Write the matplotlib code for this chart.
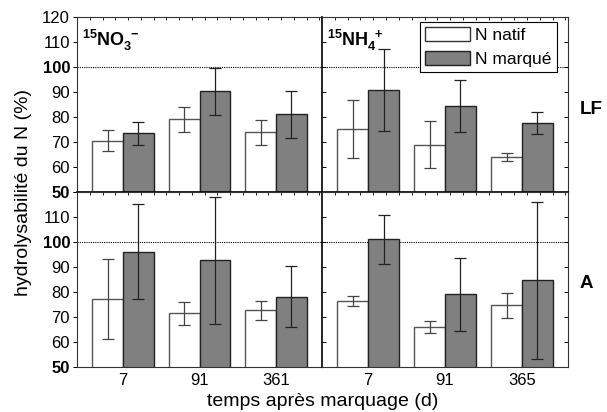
import numpy as np
import matplotlib
matplotlib.use("Agg")
from matplotlib import pyplot as plt
from matplotlib.patches import Patch

plt.rcParams['font.family'] = ['Liberation Sans', 'DejaVu Sans']
plt.rcParams['mathtext.fontset'] = 'custom'
plt.rcParams['mathtext.rm'] = 'Liberation Sans'
plt.rcParams['mathtext.bf'] = 'Liberation Sans:bold'

# days after labelling, per column
days_no3 = ['7', '91', '361']
days_nh4 = ['7', '91', '365']

# LF fraction (top row)
lf_no3_natif = [70.6, 79.1, 74.0]
lf_no3_natif_err = [4.2, 5.0, 5.0]
lf_no3_marque = [73.5, 90.3, 81.1]
lf_no3_marque_err = [4.5, 9.5, 9.3]
lf_nh4_natif = [75.2, 68.9, 64.0]
lf_nh4_natif_err = [11.5, 9.4, 1.7]
lf_nh4_marque = [90.9, 84.5, 77.6]
lf_nh4_marque_err = [16.5, 10.4, 4.3]

# A fraction (bottom row)
a_no3_natif = [77.3, 71.5, 72.7]
a_no3_natif_err = [16.0, 4.5, 3.7]
a_no3_marque = [96.1, 92.7, 78.1]
a_no3_marque_err = [19.0, 25.5, 12.2]
a_nh4_natif = [76.5, 66.0, 74.7]
a_nh4_natif_err = [1.9, 2.3, 5.0]
a_nh4_marque = [101.1, 79.1, 84.7]
a_nh4_marque_err = [9.7, 14.6, 31.3]

fig = plt.figure(figsize=(6.07, 4.12), dpi=100)
L, M, R = 77/607, 322/607, 568/607
T, C, B = 1-17/412, 1-192/412, 1-367/412

ax_tl = fig.add_axes([L, C, M-L, T-C])
ax_tr = fig.add_axes([M, C, R-M, T-C])
ax_bl = fig.add_axes([L, B, M-L, C-B])
ax_br = fig.add_axes([M, B, R-M, C-B])

panels = [
    (ax_tl, lf_no3_natif, lf_no3_natif_err, lf_no3_marque, lf_no3_marque_err, days_no3),
    (ax_tr, lf_nh4_natif, lf_nh4_natif_err, lf_nh4_marque, lf_nh4_marque_err, days_nh4),
    (ax_bl, a_no3_natif, a_no3_natif_err, a_no3_marque, a_no3_marque_err, days_no3),
    (ax_br, a_nh4_natif, a_nh4_natif_err, a_nh4_marque, a_nh4_marque_err, days_nh4),
]

gray = '#808080'
w = 0.4
x = np.arange(3)
for ax, nat, nat_e, mar, mar_e, days in panels:
    ax.bar(x - w/2, nat, w, color='white', edgecolor='#555555', lw=1.0, zorder=2)
    ax.bar(x + w/2, mar, w, color=gray, edgecolor='#222222', lw=1.0, zorder=2)
    ax.errorbar(x - w/2, nat, yerr=nat_e, fmt='none', ecolor='#444444', elinewidth=0.9,
                capsize=4, capthick=0.9, zorder=3)
    ax.errorbar(x + w/2, mar, yerr=mar_e, fmt='none', ecolor='#222222', elinewidth=0.9,
                capsize=4, capthick=0.9, zorder=3)
    ax.axhline(100, color='black', ls=(0, (1, 1)), lw=0.8, zorder=1)
    ax.set_xlim(-0.6, 2.6)
    ax.set_ylim(50, 120)
    ax.set_xticks(x)
    ax.set_xticklabels(days, fontsize=12)
    ax.set_yticks(np.arange(50, 121, 10))
    ax.tick_params(axis='y', direction='in', length=3, width=0.7, labelsize=12,
                   right=True)
    ax.tick_params(axis='x', length=0, pad=4, labelsize=12)
    ax.set_xticks(np.arange(-0.6 + 1/6, 2.6, 1/6), minor=True)
    ax.tick_params(axis='x', which='minor', direction='in', length=2, width=0.6,
                   top=True, bottom=False)
    for s in ax.spines.values():
        s.set_color('#333333')
        s.set_linewidth(0.8)

for ax in (ax_tl, ax_bl):
    ax.tick_params(axis='y', direction='out', length=3, pad=2, right=False)
for ax in (ax_tl, ax_tr):
    ax.tick_params(axis='x', labelbottom=False)
    ax.spines['bottom'].set_color('black')
    ax.spines['bottom'].set_linewidth(1.2)
for ax in (ax_tr, ax_br):
    ax.tick_params(axis='y', labelleft=False)
    ax.spines['left'].set_color('black')
    ax.spines['left'].set_linewidth(1.2)

for ax, labels in ((ax_tl, [str(v) for v in range(50, 121, 10)]),
                   (ax_bl, [str(v) for v in range(50, 111, 10)] + [''])):
    ax.set_yticklabels(labels)
    for lab in ax.get_yticklabels():
        if lab.get_text() in ('50', '100'):
            lab.set_fontweight('bold')

ax_tl.text(0.02, 0.94, r'$\mathbf{^{15}NO_3^{\ -}}$', transform=ax_tl.transAxes,
           fontsize=13, va='top', ha='left')
ax_tr.text(0.02, 0.94, r'$\mathbf{^{15}NH_4^{\ +}}$', transform=ax_tr.transAxes,
           fontsize=13, va='top', ha='left')

fig.text(580/607, 1-110/412, 'LF', fontsize=13.5, fontweight='bold', va='center', ha='left')
fig.text(580/607, 1-284/412, 'A', fontsize=13.5, fontweight='bold', va='center', ha='left')

fig.text(24/607, (T+B)/2, 'hydrolysabilité du N (%)', rotation=90, fontsize=14,
         va='center', ha='center')
fig.text((L+R)/2, 1-402/412, 'temps après marquage (d)', fontsize=14,
         va='center', ha='center')

handles = [Patch(facecolor='white', edgecolor='#333333', lw=1.0),
           Patch(facecolor=gray, edgecolor='#222222', lw=1.0)]
leg = ax_tr.legend(handles, ['N natif', 'N marqué'], loc='upper right',
                   bbox_to_anchor=(0.955, 0.97), fontsize=12.5, frameon=True,
                   fancybox=False, edgecolor='black', framealpha=1,
                   handlelength=2.6, handleheight=0.85, handletextpad=0.3,
                   borderpad=0.3, labelspacing=0.45, borderaxespad=0)
leg.get_frame().set_linewidth(0.8)
leg.set_zorder(5)

fig.savefig('out.png', dpi=100)
